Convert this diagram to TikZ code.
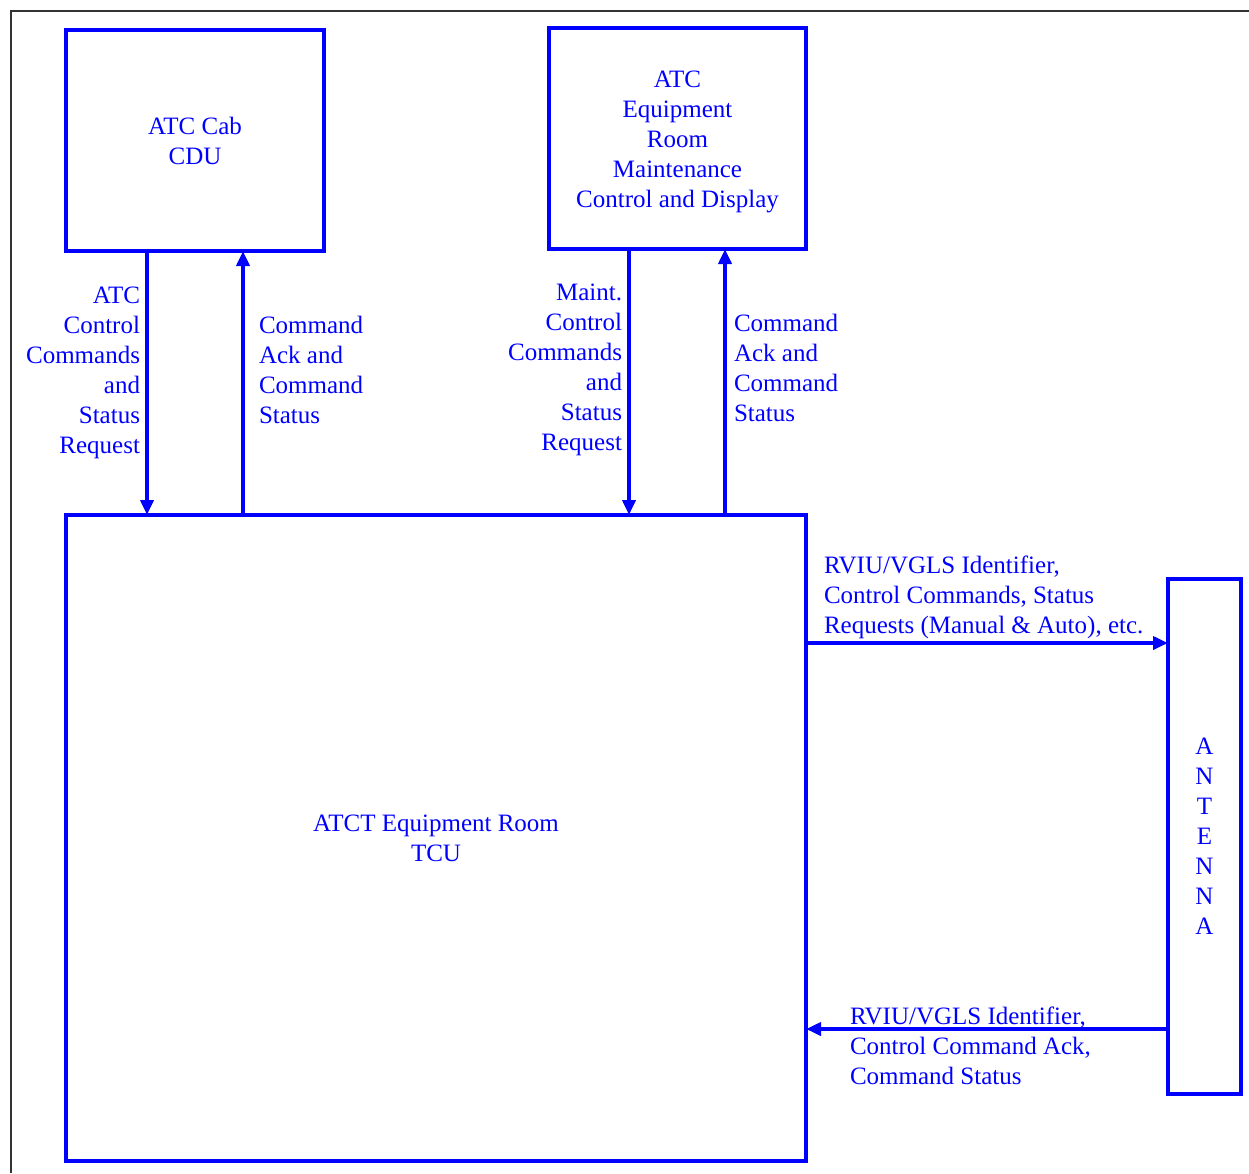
\documentclass[tikz,border=0pt]{standalone}
\usepackage{fontspec}
\setmainfont{Liberation Serif}
\usetikzlibrary{arrows.meta}
\definecolor{linkblue}{RGB}{0,0,255}
\begin{document}
\begin{tikzpicture}[x=1pt,y=-1pt,
  every node/.style={font=\fontsize{25}{30}\selectfont, text=linkblue},
  unit/.style={draw=linkblue, line width=3.7pt, rectangle, inner sep=0pt, outer sep=0pt, align=center},
  lbl/.style={inner sep=0pt, outer sep=0pt},
  flow/.style={draw=linkblue, line width=3.7pt, -{Triangle[length=15pt,width=13pt]}},
  frame/.style={draw=black!80, line width=1.5pt}]
\useasboundingbox (0,0) rectangle (1249,1173);

% outer frame (only top and left edges fall inside the page)
\draw[frame] (11,1173) -- (11,11) -- (1249,11);

% units
\node[unit, minimum width=258pt, minimum height=221pt] (cdu) at (195,140.5) {ATC Cab\\CDU};
\node[unit, minimum width=257pt, minimum height=221pt] (maint) at (677.5,138.5)
  {\rule{0pt}{23pt}ATC\\Equipment\\Room\\Maintenance\\Control and Display};
\node[unit, minimum width=740pt, minimum height=646pt] (tcu) at (436,838) {ATCT Equipment Room\\TCU};
\node[unit, minimum width=73pt, minimum height=515pt] (ant) at (1204.5,836.5) {A\\N\\T\\E\\N\\N\\A};

% cab CDU links
\draw[flow] ([xshift=81pt]cdu.south west) -- ([xshift=81pt]cdu.south west |- tcu.north);
\draw[flow] ([xshift=177pt]cdu.south west |- tcu.north) -- ([xshift=177pt]cdu.south west);
\node[lbl, anchor=north east, align=right] (cduq) at (140,287) {ATC\\Control\\Commands\\and\\Status\\Request};
\node[lbl, anchor=north west, align=left] (cdua) at (259,316) {Command\\Ack and\\Command\\Status};

% maintenance display links
\draw[flow] ([xshift=80pt]maint.south west) -- ([xshift=80pt]maint.south west |- tcu.north);
\draw[flow] ([xshift=176pt]maint.south west |- tcu.north) -- ([xshift=176pt]maint.south west);
\node[lbl, anchor=north east, align=right] (mntq) at (622,284) {Maint.\\Control\\Commands\\and\\Status\\Request};
\node[lbl, anchor=north west, align=left] (mnta) at (734,314) {Command\\Ack and\\Command\\Status};

% antenna links
\coordinate (up) at (0,643);
\coordinate (dn) at (0,1029);
\draw[flow] (tcu.east |- up) -- (ant.west |- up);
\draw[flow] (ant.west |- dn) -- (tcu.east |- dn);
\node[lbl, anchor=north west, align=left] (upl) at (824,556)
  {RVIU/VGLS Identifier,\\Control Commands, Status\\Requests (Manual \& Auto), etc.};
\node[lbl, anchor=north west, align=left] (dnl) at (850,1007)
  {RVIU/VGLS Identifier,\\Control Command Ack,\\Command Status};
\end{tikzpicture}
\end{document}
